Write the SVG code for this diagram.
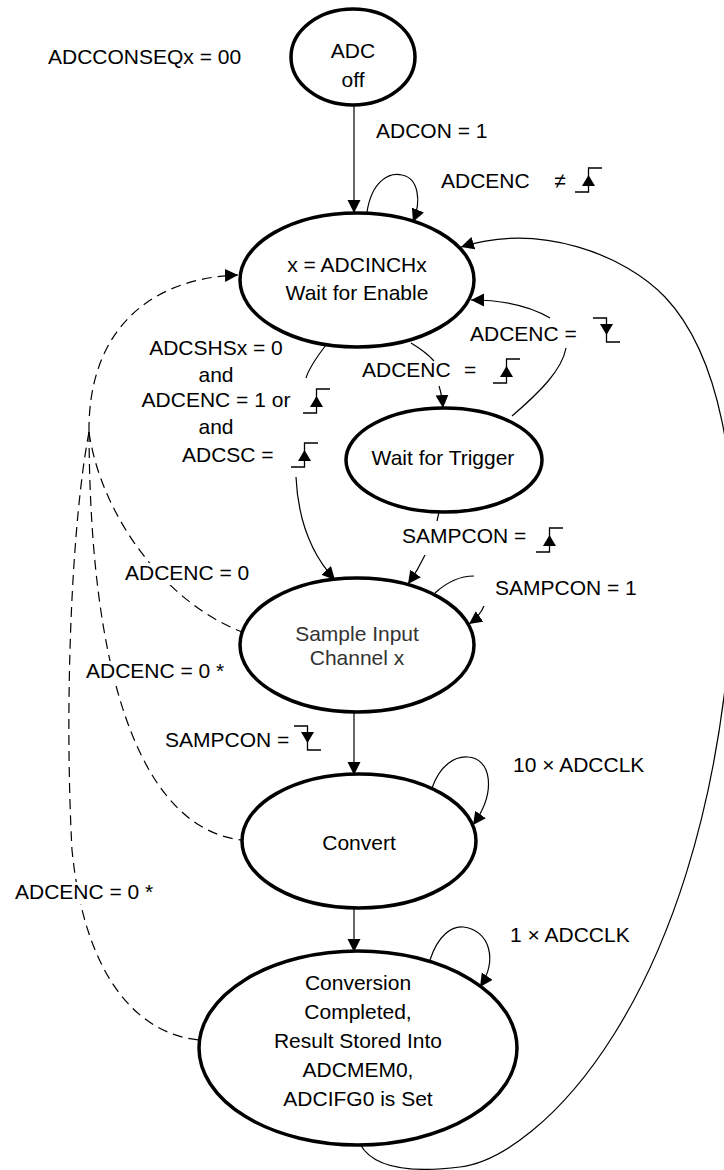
<svg xmlns="http://www.w3.org/2000/svg" width="724" height="1170" viewBox="0 0 724 1170">
<style>
.node ellipse{fill:#fff;stroke:#000;stroke-width:3.5}
text{font-family:"Liberation Sans",Arial,sans-serif;font-size:21px;fill:#000}
.c{text-anchor:middle}
.ln{fill:none;stroke:#000;stroke-width:1.2}
.dash{stroke-dasharray:10 6}
.bg{fill:#fff}
.gray{fill:#333}
</style>
<defs>
<marker id="ah" markerUnits="userSpaceOnUse" markerWidth="14" markerHeight="14" refX="13" refY="6.5" orient="auto" viewBox="0 0 14 14">
<path d="M0,0 L13,6.5 L0,13 z" fill="#000"/>
</marker>
<g id="rise"><path d="M0,24 H13.5 V0 H27" fill="none" stroke="#000" stroke-width="1.3"/><path d="M13.5,7 L20,18 L7,18 z" fill="#000"/></g>
<g id="fall"><path d="M0,0 H13.5 V24 H27" fill="none" stroke="#000" stroke-width="1.3"/><path d="M7,6 L20,6 L13.5,17 z" fill="#000"/></g>
</defs>

<g id="n-adcoff" class="node"><ellipse cx="353" cy="57" rx="62" ry="48"/><text class="c" x="353" y="58">ADC</text><text class="c" x="353" y="87">off</text></g>
<g id="n-wfe" class="node"><ellipse cx="357" cy="280" rx="117" ry="67"/><text class="c" x="357" y="272">x = ADCINCHx</text><text class="c" x="357" y="300">Wait for Enable</text></g>
<g id="n-wft" class="node"><ellipse cx="444" cy="460" rx="98" ry="52"/><text class="c" x="443" y="465">Wait for Trigger</text></g>
<g id="n-sample" class="node"><ellipse cx="357" cy="645" rx="117" ry="67"/><text class="c gray" x="357" y="641">Sample Input</text><text class="c gray" x="357" y="665">Channel x</text></g>
<g id="n-convert" class="node"><ellipse cx="359" cy="841" rx="117" ry="67"/><text class="c" x="359" y="850">Convert</text></g>
<g id="n-done" class="node"><ellipse cx="358" cy="1048" rx="159" ry="97"/>
<text class="c" x="358" y="990">Conversion</text><text class="c" x="358" y="1019">Completed,</text><text class="c" x="358" y="1048">Result Stored Into</text><text class="c" x="358" y="1077">ADCMEM0,</text><text class="c" x="358" y="1106">ADCIFG0 is Set</text></g>

<g id="connectors">
<path class="ln" d="M354,105 L354,213" marker-end="url(#ah)"/>
<path class="ln" d="M367,212 C372,180 390,172 402,175 C418,178 422,200 413,222" marker-end="url(#ah)"/>
<path class="ln" d="M360,1144 C375,1172 420,1172 460,1167 C540,1157 700,1000 730,640 C745,460 715,350 665,297 C625,255 540,222 461,247" marker-end="url(#ah)"/>
<path class="ln" d="M512,416 C540,392 562,370 566,348"/>
<path class="ln" d="M550,318 C530,306 505,300 471,300" marker-end="url(#ah)"/>
<path class="ln" d="M411,343 Q426,352 434,361"/>
<path class="ln" d="M439,386 Q442,395 443,408" marker-end="url(#ah)"/>
<path class="ln" d="M326,345 C316,358 309,368 306,378"/>
<path class="ln" d="M296,477 C298,520 312,555 335,580" marker-end="url(#ah)"/>
<path class="ln" d="M439,512 L437,521"/>
<path class="ln" d="M425,555 Q418,570 408,584" marker-end="url(#ah)"/>
<path class="ln" d="M435,593 C447,582 460,576 474,576"/>
<path class="ln" d="M484,606 C481,613 476,619 469,624" marker-end="url(#ah)"/>
<path class="ln" d="M354,712 L354,775" marker-end="url(#ah)"/>
<path class="ln" d="M432,788 C440,765 455,756 468,757 C490,758 498,790 473,825" marker-end="url(#ah)"/>
<path class="ln" d="M354,908 L354,952" marker-end="url(#ah)"/>
<path class="ln" d="M430,960 C438,935 452,926 463,927 C490,930 498,960 480,987" marker-end="url(#ah)"/>
<path class="ln dash" d="M89,432 C88,330 150,278 238,275" marker-end="url(#ah)"/>
<path class="ln dash" d="M89,432 C100,510 160,600 242,632"/>
<path class="ln dash" d="M89,432 C90,700 150,830 242,840"/>
<path class="ln dash" d="M89,432 C72,520 64,700 72,850 C85,980 140,1035 200,1040"/>
</g>

<g id="labels">
<text x="48" y="64">ADCCONSEQx = 00</text>
<text x="376" y="138">ADCON = 1</text>
<text x="441" y="188">ADCENC</text><text class="c" x="560" y="188">≠</text>
<use href="#rise" x="575" y="168"/>
<text x="470" y="341">ADCENC =</text>
<use href="#fall" x="593" y="318"/>
<text x="362" y="377">ADCENC<tspan x="464">=</tspan></text>
<use href="#rise" x="493" y="359"/>
<text class="c" x="216" y="355">ADCSHSx = 0</text>
<text class="c" x="216" y="382">and</text>
<text class="c" x="216" y="407">ADCENC = 1 or</text>
<use href="#rise" x="303" y="389"/>
<text class="c" x="216" y="434">and</text>
<text x="182" y="462">ADCSC =</text>
<use href="#rise" x="291" y="443"/>
<text x="402" y="543">SAMPCON =</text>
<use href="#rise" x="536" y="528"/>
<text x="495" y="595">SAMPCON = 1</text>
<rect class="bg" x="122" y="563" width="131" height="22"/>
<text x="125" y="580">ADCENC = 0</text>
<rect class="bg" x="83" y="661" width="146" height="22"/>
<text x="86" y="678">ADCENC = 0 *</text>
<text x="165" y="747">SAMPCON =</text>
<use href="#fall" x="294" y="726"/>
<text x="513" y="772">10 × ADCCLK</text>
<rect class="bg" x="12" y="882" width="146" height="22"/>
<text x="15" y="899">ADCENC = 0 *</text>
<text x="510" y="942">1 × ADCCLK</text>
</g>
</svg>
